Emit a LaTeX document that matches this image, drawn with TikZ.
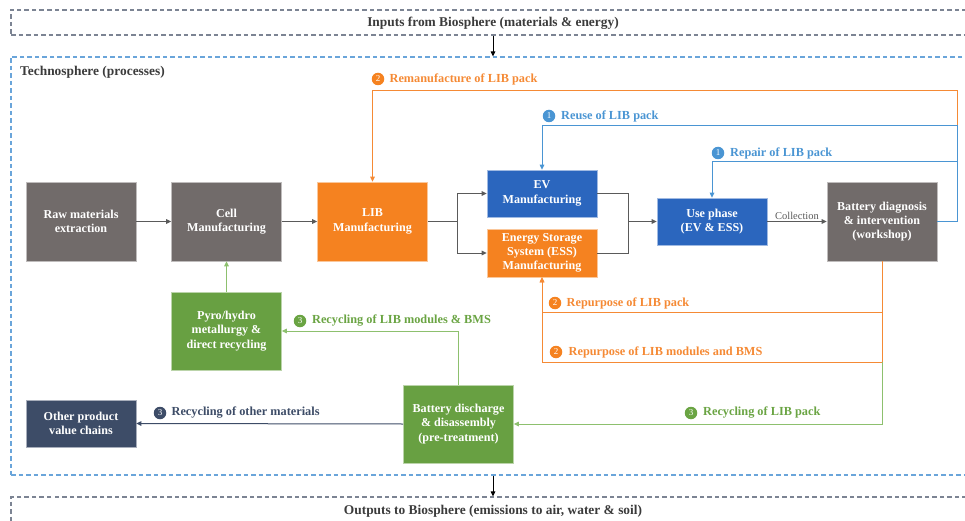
\documentclass[tikz,border=0pt]{standalone}
\usepackage{fontspec}
\setmainfont{Liberation Serif}
\usepackage{xcolor}
\usetikzlibrary{arrows.meta,positioning,calc}

\definecolor{boxgray}{HTML}{716B6A}
\definecolor{liborange}{HTML}{F58220}
\definecolor{evblue}{HTML}{2B66BE}
\definecolor{recgreen}{HTML}{68A042}
\definecolor{navy}{HTML}{3D4C67}
\definecolor{lineblue}{HTML}{4A95D3}
\definecolor{lineorange}{HTML}{F58A35}
\definecolor{linegreen}{HTML}{8DC06E}
\definecolor{txgreen}{HTML}{6AA443}
\definecolor{linegray}{HTML}{5A5A5A}
\definecolor{framegray}{HTML}{7C8493}
\definecolor{frameblue}{HTML}{6AA5DA}
\definecolor{txdark}{HTML}{3B3B3B}

\begin{document}
\begin{tikzpicture}[x=1pt, y=-1pt, >={Triangle[length=5pt,width=4.5pt]},
  proc/.style={rectangle,draw=white!55!#1,fill=#1,text=white,line width=0.6pt,
    font=\bfseries\fontsize{12.1}{14.3}\selectfont,align=center,
    minimum width=110pt,minimum height=79pt,inner sep=0pt},
  procs/.style={proc=#1,minimum height=47pt},
  zone/.style={rectangle,draw,color=#1,dash pattern=on 4.5pt off 3pt,line width=1.1pt,
    minimum width=964pt,inner sep=0pt},
  ftext/.style={text=txdark,font=\bfseries\fontsize{13.4}{15}\selectfont,inner sep=0pt},
  flow/.style={draw=#1,line width=1pt},
  numc/.style={circle,fill=#1,text=white,inner sep=0pt,minimum size=12.5pt,
    font=\fontsize{9}{9}\selectfont},
  lbl/.style={text=#1,font=\bfseries\fontsize{12.3}{14}\selectfont,inner sep=0pt}]
  \useasboundingbox (0,0) rectangle (965,521);
  \clip (0,0) rectangle (965,521);
  %--- frames ---
  \node[zone=framegray,minimum height=25pt] (inp) at (493,22.5) {};
  \node[zone=frameblue,minimum height=418pt] (tech) at (493,266) {};
  \node[zone=framegray,minimum height=40pt] (outp) at (493,517) {};
  \node[ftext] (inpt) at (493,23) {Inputs from Biosphere (materials \& energy)};
  \node[ftext] (outpt) at (493,511) {Outputs to Biosphere (emissions to air, water \& soil)};
  \node[ftext,anchor=west] (ttl) at (20,72) {Technosphere (processes)};
  \draw[flow=black,->] (inp.south) -- (tech.north);
  \draw[flow=black,->] (tech.south) -- (outp.north);
  %--- processes ---
  \node[proc=boxgray]    (raw)   at (81,221.5)    {Raw materials\\extraction};
  \node[proc=boxgray]    (cell)  at (226.5,221.5) {Cell\\Manufacturing};
  \node[proc=liborange]  (lib)   at (372.5,221.5) {LIB\\Manufacturing};
  \node[procs=evblue]    (ev)    at (542,193.5)   {EV\\Manufacturing};
  \node[procs=liborange,minimum height=48pt] (ess) at (542,253)
    {Energy Storage\\System (ESS)\\Manufacturing};
  \node[procs=evblue]    (use)   at (712,221.5)   {Use phase\\(EV \& ESS)};
  \node[proc=boxgray]    (diag)  at (882,221.5)   {Battery diagnosis\\\& intervention\\(workshop)};
  \node[proc=recgreen,minimum height=78pt] (pyro) at (226.5,331)
    {Pyro/hydro\\metallurgy \&\\direct recycling};
  \node[procs=navy]      (other) at (81,423.5)    {Other product\\value chains};
  \node[proc=recgreen,minimum height=78pt] (dis) at (458.5,424)
    {Battery discharge\\\& disassembly\\(pre-treatment)};
  %--- main chain ---
  \coordinate (sp) at (457,221.5);
  \coordinate (mg) at (628,221.5);
  \draw[flow=linegray,->] (raw.east) -- (cell.west);
  \draw[flow=linegray,->] (cell.east) -- (lib.west);
  \draw[flow=linegray] (lib.east) -- (sp);
  \draw[flow=linegray,->] (sp) |- (ev.west);
  \draw[flow=linegray,->] (sp) |- (ess.west);
  \draw[flow=linegray] (ev.east) -| (mg);
  \draw[flow=linegray] (ess.east) -| (mg);
  \draw[flow=linegray,->] (mg) -- (use.west);
  \draw[flow=linegray,->] (use.east) -- node[above=1.5pt,inner sep=0pt,text=linegray,
    font=\fontsize{10.5}{12}\selectfont] {Collection} (diag.west);
  %--- loops back from the workshop ---
  \draw[flow=lineorange,->] (diag.east) -| (957,91) -| (lib.north);
  \draw[flow=lineblue,->] (diag.east) -| (957,126) -| (ev.north);
  \draw[flow=lineblue,->] (diag.east) -| (957,162) -| (use.north);
  \coordinate (bj) at (882,362);
  \draw[flow=lineorange,->] (diag.south) -- (882,312) -| (ess.south);
  \draw[flow=lineorange,->] (diag.south) -- (bj) -| (ess.south);
  \draw[flow=linegreen,->] (bj) |- (dis.east);
  \draw[flow=linegreen,->] (dis.north) |- (pyro.east);
  \draw[flow=linegreen,->] (pyro.north) -- (cell.south);
  \draw[flow=navy,->] (dis.west) -- (other.east);
  %--- labels ---
  \node[numc=liborange] (n2a) at (378,79) {2};
  \node[lbl=lineorange,right=5pt of n2a] {Remanufacture of LIB pack};
  \node[numc=lineblue] (n1a) at (549,116) {1};
  \node[lbl=lineblue,right=5.5pt of n1a] {Reuse of LIB pack};
  \node[numc=lineblue] (n1b) at (718,153) {1};
  \node[lbl=lineblue,right=5.5pt of n1b] {Repair of LIB pack};
  \node[numc=liborange] (n2b) at (555,303) {2};
  \node[lbl=lineorange,right=5pt of n2b] {Repurpose of LIB pack};
  \node[numc=liborange] (n2c) at (556,352) {2};
  \node[lbl=lineorange,right=6pt of n2c] {Repurpose of LIB modules and BMS};
  \node[numc=txgreen] (n3a) at (691,413) {3};
  \node[lbl=txgreen,right=5.5pt of n3a] {Recycling of LIB pack};
  \node[numc=txgreen] (n3b) at (300,321) {3};
  \node[lbl=txgreen,right=5.5pt of n3b] {Recycling of LIB modules \& BMS};
  \node[numc=navy] (n3c) at (160,413) {3};
  \node[lbl=navy,right=5pt of n3c] {Recycling of other materials};
\end{tikzpicture}
\end{document}
